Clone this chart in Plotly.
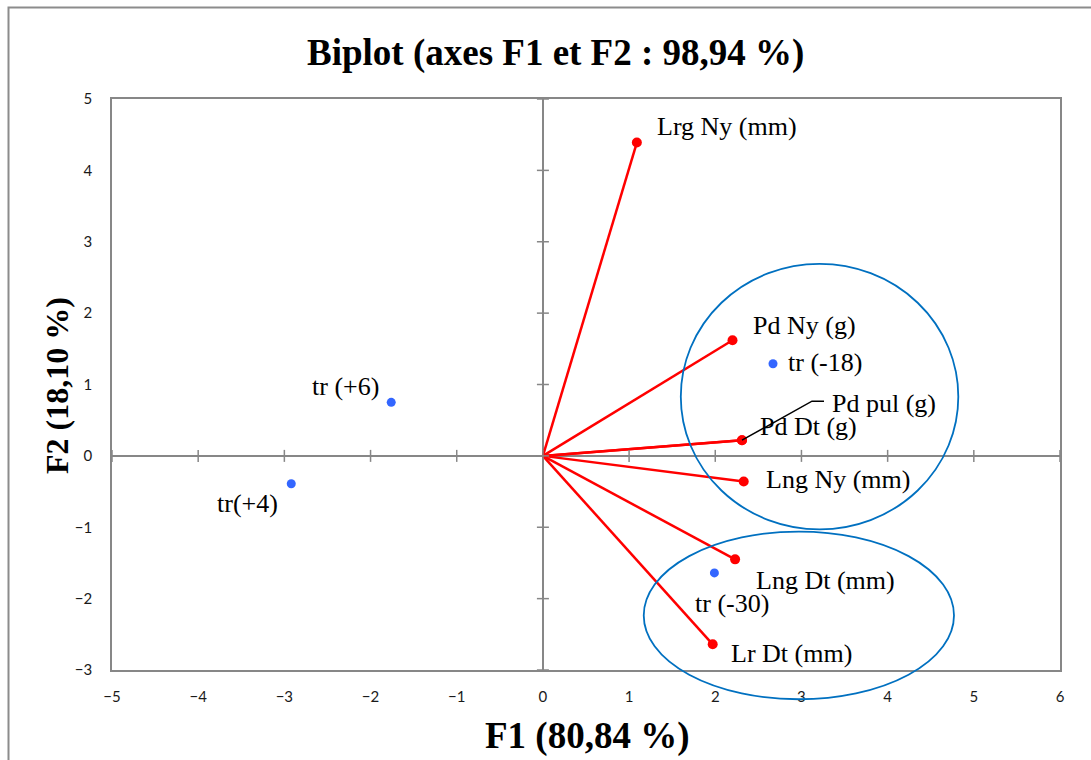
import plotly.graph_objects as go

# Variable loadings (vectors) on F1 / F2
var_names = ["Lrg Ny (mm)", "Pd Ny (g)", "Pd pul (g)", "Pd Dt (g)",
             "Lng Ny (mm)", "Lng Dt (mm)", "Lr Dt (mm)"]
var_f1 = [1.09, 2.20, 2.31, 2.31, 2.33, 2.23, 1.97]
var_f2 = [4.39, 1.62, 0.22, 0.22, -0.36, -1.45, -2.64]

# Observations (treatments)
obs_names = ["tr (+6)", "tr(+4)", "tr (-18)", "tr (-30)"]
obs_f1 = [-1.76, -2.92, 2.67, 1.99]
obs_f2 = [0.75, -0.39, 1.29, -1.64]

# Axis ticks
x_ticks = [-5, -4, -3, -2, -1, 0, 1, 2, 3, 4, 5, 6]
y_ticks = [-3, -2, -1, 0, 1, 2, 3, 4, 5]

# Grouping ellipses (x0, x1, y0, y1 in F1/F2 units)
groups = [(1.60, 4.82, -1.03, 2.69), (1.17, 4.77, -3.41, -1.06)]

# ---- layout geometry ----
W, H = 1091, 760
ML, MR, MT, MB = 112, 31, 99, 90
PW, PH = W - ML - MR, H - MT - MB
XR = (x_ticks[0], x_ticks[-1])
YR = (y_ticks[0], y_ticks[-1])
SX = PW / (XR[1] - XR[0])
SY = PH / (YR[1] - YR[0])


def to_paper_x(v):
    return (v - XR[0]) / (XR[1] - XR[0])


def to_paper_y(v):
    return (v - YR[0]) / (YR[1] - YR[0])


def px_paper_x(px):
    return (px - ML) / PW


def px_paper_y(py):
    return (MT + PH - py) / PH


RED = "#FF0000"
BLUE = "#3366FF"
GRAY = "#878787"
SERIF = "Liberation Serif, Times New Roman, serif"

fig = go.Figure()

# Vectors from the origin
vx, vy = [], []
for a, b in zip(var_f1, var_f2):
    vx += [0, a, None]
    vy += [0, b, None]
fig.add_trace(go.Scatter(x=vx, y=vy, mode="lines",
                         line=dict(color=RED, width=2.5),
                         hoverinfo="skip", showlegend=False))
fig.add_trace(go.Scatter(x=var_f1, y=var_f2, mode="markers", text=var_names,
                         marker=dict(color=RED, size=10),
                         cliponaxis=False, showlegend=False))

# Leader line for the overlapping "Pd pul (g)" label
i_pul = var_names.index("Pd pul (g)")
lead_px = [(0, 0), (70, -39), (82, -39)]
fig.add_trace(go.Scatter(
    x=[var_f1[i_pul] + dx / SX for dx, dy in lead_px],
    y=[var_f2[i_pul] - dy / SY for dx, dy in lead_px],
    mode="lines", line=dict(color="black", width=1.5),
    hoverinfo="skip", showlegend=False))

# Observations
fig.add_trace(go.Scatter(x=obs_f1, y=obs_f2, mode="markers", text=obs_names,
                         marker=dict(color=BLUE, size=9),
                         cliponaxis=False, showlegend=False))

# Label offsets in pixels (dx right, dy down) and anchor side
var_label_off = [(18, -16, "left"), (18, -15, "left"), (88, -37, "left"),
                 (16, -14, "left"), (20, -2, "left"), (19, 21, "left"),
                 (16, 9, "left")]
obs_label_off = [(-10, -16, "right"), (-11, 20, "right"),
                 (13, -1, "left"), (-21, 31, "left")]

annotations = []
for (name, a, b), (dx, dy, side) in zip(
        list(zip(var_names, var_f1, var_f2)) + list(zip(obs_names, obs_f1, obs_f2)),
        var_label_off + obs_label_off):
    annotations.append(dict(x=a, y=b, xref="x", yref="y", text=name,
                            showarrow=False, xanchor=side, yanchor="middle",
                            xshift=dx, yshift=-dy,
                            font=dict(family=SERIF, size=26, color="black")))

# Title and axis titles
annotations.append(dict(text="<b>Biplot (axes F1 et F2 : 98,94 %)</b>",
                        x=px_paper_x(555), y=px_paper_y(53),
                        xref="paper", yref="paper", showarrow=False,
                        xanchor="center", yanchor="middle",
                        font=dict(family=SERIF, size=37, color="black")))
annotations.append(dict(text="<b>F1 (80,84 %)</b>",
                        x=px_paper_x(587), y=px_paper_y(736),
                        xref="paper", yref="paper", showarrow=False,
                        xanchor="center", yanchor="middle",
                        font=dict(family=SERIF, size=37, color="black")))
annotations.append(dict(text="<b>F2 (18,10 %)</b>",
                        x=px_paper_x(57), y=px_paper_y(386),
                        xref="paper", yref="paper", showarrow=False,
                        xanchor="center", yanchor="middle", textangle=-90,
                        font=dict(family=SERIF, size=32, color="black")))

shapes = []
# Tick marks crossing the zero lines
for t in x_ticks:
    shapes.append(dict(type="line", xref="x", yref="y", x0=t, x1=t,
                       ysizemode="pixel", yanchor=0, y0=-6, y1=6,
                       line=dict(color=GRAY, width=1.5), layer="above"))
for t in y_ticks:
    shapes.append(dict(type="line", xref="x", yref="y", y0=t, y1=t,
                       xsizemode="pixel", xanchor=0, x0=-6, x1=6,
                       line=dict(color=GRAY, width=1.5), layer="above"))

# Grouping ellipses (paper coords so they are not clipped)
for x0, x1, y0, y1 in groups:
    shapes.append(dict(type="circle", xref="paper", yref="paper",
                       x0=to_paper_x(x0), x1=to_paper_x(x1),
                       y0=to_paper_y(y0), y1=to_paper_y(y1),
                       line=dict(color="#0070C0", width=1.8), layer="above"))

# Chart-area frame
shapes.append(dict(type="rect", xref="paper", yref="paper",
                   x0=px_paper_x(8.5), x1=px_paper_x(W + 20),
                   y0=px_paper_y(H + 20), y1=px_paper_y(7.5),
                   line=dict(color="#8C8C8C", width=2), layer="below"))

axis_common = dict(showgrid=False, zeroline=True, zerolinecolor=GRAY,
                   zerolinewidth=1.5, showline=True, mirror=True,
                   linecolor=GRAY, linewidth=1.5, ticks="",
                   tickfont=dict(family="Lato, Carlito, sans-serif", size=15,
                                 color="#1a1a1a"))

fig.update_layout(
    width=W, height=H,
    margin=dict(l=ML, r=MR, t=MT, b=MB),
    paper_bgcolor="white", plot_bgcolor="white",
    xaxis=dict(range=list(XR), tickvals=x_ticks, ticklabelstandoff=12,
               **axis_common),
    yaxis=dict(range=list(YR), tickvals=y_ticks, ticklabelstandoff=15,
               **axis_common),
    annotations=annotations,
    shapes=shapes,
    showlegend=False,
)

fig.write_html("out.html")
